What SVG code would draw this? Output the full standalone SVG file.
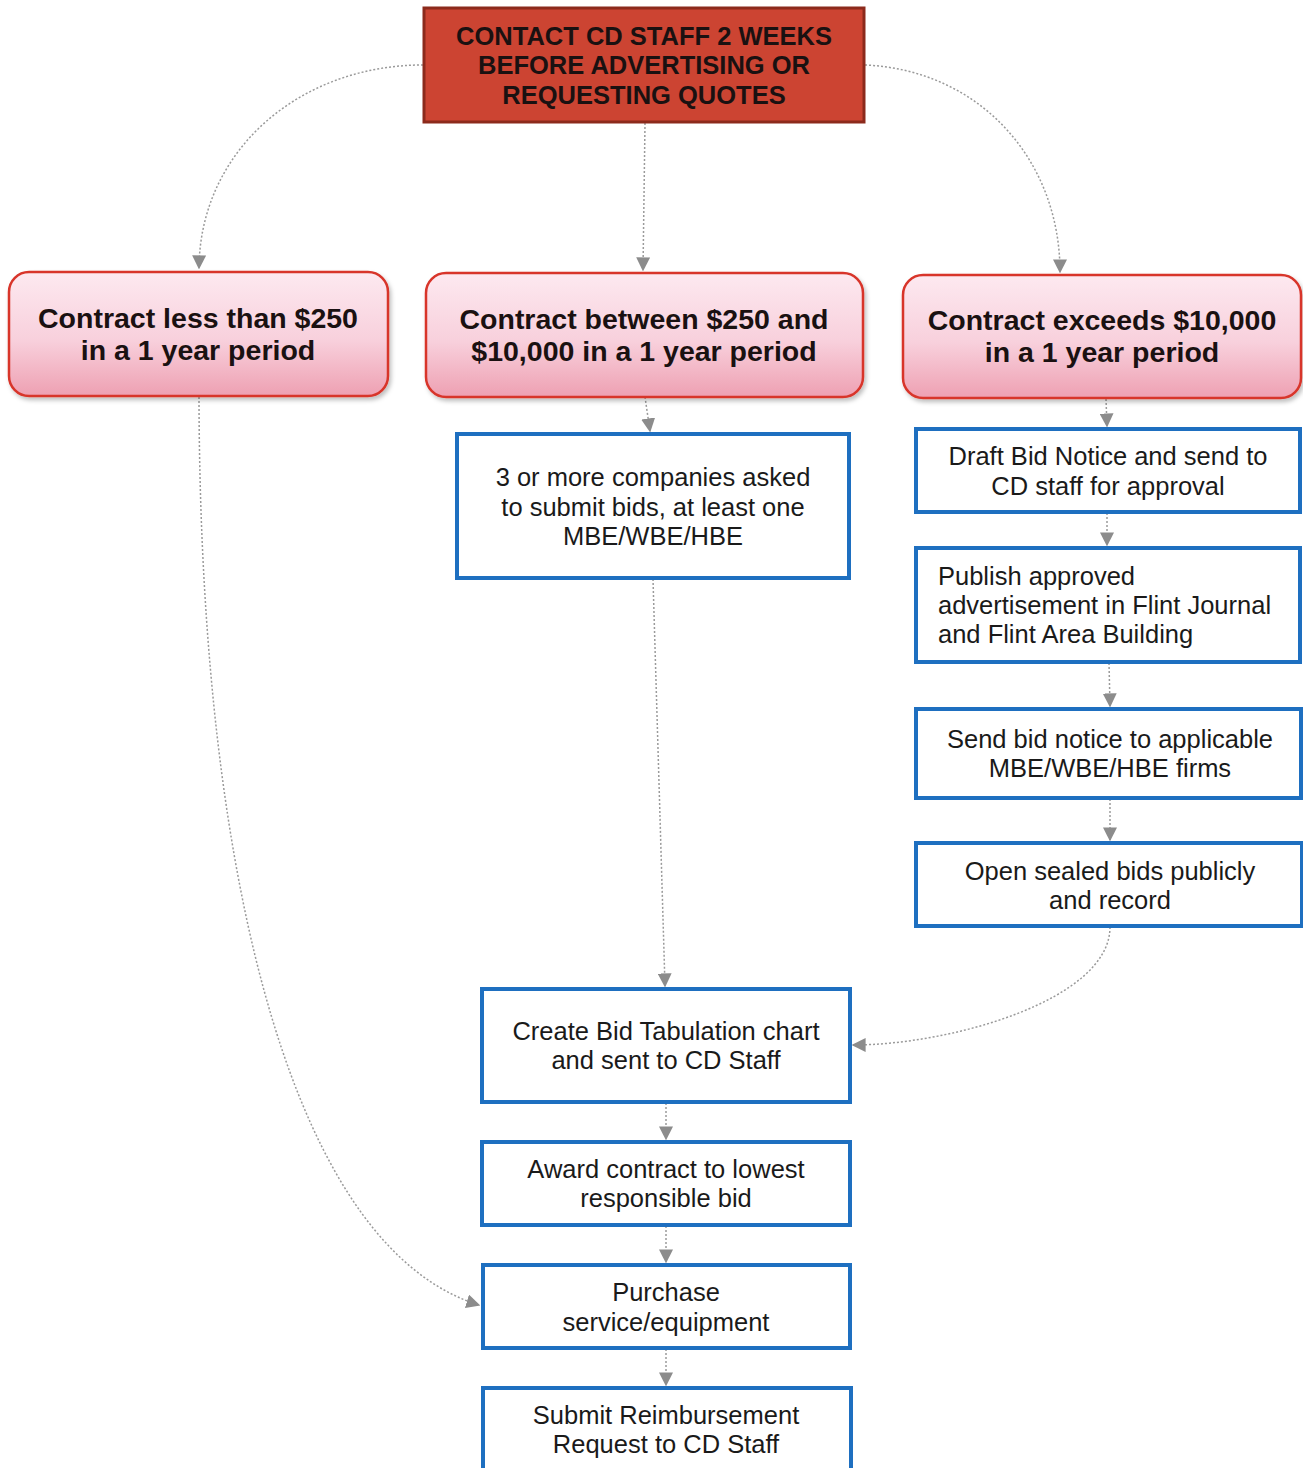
<svg xmlns="http://www.w3.org/2000/svg" width="1303" height="1468" viewBox="0 0 1303 1468">
<style>
.pink{stroke:#d8342a;stroke-width:2.5;fill:url(#pg)}
.blue{fill:#fff;stroke:#1e6fc0;stroke-width:4}
.t1{font-family:"Liberation Sans",Arial,sans-serif;font-weight:bold;font-size:25.5px;fill:#1a1111;text-anchor:middle}
.t2{font-family:"Liberation Sans",Arial,sans-serif;font-weight:bold;font-size:28.5px;fill:#1a1111;text-anchor:middle}
.t3{font-family:"Liberation Sans",Arial,sans-serif;font-size:25.5px;fill:#1a1a1a;text-anchor:middle}
.t3l{font-family:"Liberation Sans",Arial,sans-serif;font-size:25.5px;fill:#1a1a1a;text-anchor:start}
.c{fill:none;stroke:#9a9a9a;stroke-width:1.5;stroke-dasharray:2 2;marker-end:url(#ah)}
</style>
<defs>
<linearGradient id="pg" x1="0" y1="0" x2="0" y2="1">
<stop offset="0" stop-color="#fde9f0"/>
<stop offset="0.55" stop-color="#f8d0dc"/>
<stop offset="1" stop-color="#eea0b2"/>
</linearGradient>
<filter id="sh" x="-5%" y="-10%" width="110%" height="125%">
<feDropShadow dx="2" dy="3" stdDeviation="2" flood-color="#000" flood-opacity="0.25"/>
</filter>
<marker id="ah" viewBox="0 0 10 10" refX="9" refY="5" markerWidth="14" markerHeight="14" markerUnits="userSpaceOnUse" orient="auto">
<path d="M0,0 L10,5 L0,10 Z" fill="#8c8c8c"/>
</marker>
</defs>
<rect width="1303" height="1468" fill="#fff"/>
<g id="connectors">
<path class="c" d="M423,65 C300,65 200,150 199,268"/>
<path class="c" d="M645,123 L643,270"/>
<path class="c" d="M865,65 C980,70 1060,160 1060,272"/>
<path class="c" d="M199,397 C200,900 300,1250 479,1305"/>
<path class="c" d="M645,397 L650,431"/>
<path class="c" d="M653,579 L665,986"/>
<path class="c" d="M1106,399 L1107,426"/>
<path class="c" d="M1107,513 L1107,545"/>
<path class="c" d="M1109,663 L1110,706"/>
<path class="c" d="M1110,799 L1110,840"/>
<path class="c" d="M1110,927 C1110,1000 950,1045 853,1045"/>
<path class="c" d="M666,1103 L666,1139"/>
<path class="c" d="M666,1226 L666,1262"/>
<path class="c" d="M666,1349 L666,1385"/>
</g>
<g id="n-top">
<rect x="424" y="8" width="440" height="114" fill="#cc4432" stroke="#8c2a1c" stroke-width="3"/>
<text class="t1" x="644" y="45">CONTACT CD STAFF 2 WEEKS</text>
<text class="t1" x="644" y="74">BEFORE ADVERTISING OR</text>
<text class="t1" x="644" y="104">REQUESTING QUOTES</text>
</g>
<g id="n-less">
<rect class="pink" x="9" y="272" width="379" height="124" rx="20" filter="url(#sh)"/>
<text class="t2" x="198" y="328">Contract less than $250</text>
<text class="t2" x="198" y="360">in a 1 year period</text>
</g>
<g id="n-between">
<rect class="pink" x="426" y="273" width="437" height="124" rx="20" filter="url(#sh)"/>
<text class="t2" x="644" y="329">Contract between $250 and</text>
<text class="t2" x="644" y="361">$10,000 in a 1 year period</text>
</g>
<g id="n-exceeds">
<rect class="pink" x="903" y="275" width="398" height="123" rx="20" filter="url(#sh)"/>
<text class="t2" x="1102" y="330">Contract exceeds $10,000</text>
<text class="t2" x="1102" y="362">in a 1 year period</text>
</g>
<g id="n-three">
<rect class="blue" x="457" y="434" width="392" height="144"/>
<text class="t3" x="653" y="486">3 or more companies asked</text>
<text class="t3" x="653" y="516">to submit bids, at least one</text>
<text class="t3" x="653" y="545">MBE/WBE/HBE</text>
</g>
<g id="n-draft">
<rect class="blue" x="916" y="429" width="384" height="83"/>
<text class="t3" x="1108" y="465">Draft Bid Notice and send to</text>
<text class="t3" x="1108" y="495">CD staff for approval</text>
</g>
<g id="n-publish">
<rect class="blue" x="916" y="548" width="384" height="114"/>
<text class="t3l" x="938" y="585">Publish approved</text>
<text class="t3l" x="938" y="614">advertisement in Flint Journal</text>
<text class="t3l" x="938" y="643">and Flint Area Building</text>
</g>
<g id="n-send">
<rect class="blue" x="916" y="709" width="385" height="89"/>
<text class="t3" x="1110" y="748">Send bid notice to applicable</text>
<text class="t3" x="1110" y="777">MBE/WBE/HBE firms</text>
</g>
<g id="n-open">
<rect class="blue" x="916" y="843" width="386" height="83"/>
<text class="t3" x="1110" y="880">Open sealed bids publicly</text>
<text class="t3" x="1110" y="909">and record</text>
</g>
<g id="n-create">
<rect class="blue" x="482" y="989" width="368" height="113"/>
<text class="t3" x="666" y="1040">Create Bid Tabulation chart</text>
<text class="t3" x="666" y="1069">and sent to CD Staff</text>
</g>
<g id="n-award">
<rect class="blue" x="482" y="1142" width="368" height="83"/>
<text class="t3" x="666" y="1178">Award contract to lowest</text>
<text class="t3" x="666" y="1207">responsible bid</text>
</g>
<g id="n-purchase">
<rect class="blue" x="483" y="1265" width="367" height="83"/>
<text class="t3" x="666" y="1301">Purchase</text>
<text class="t3" x="666" y="1331">service/equipment</text>
</g>
<g id="n-submit">
<rect class="blue" x="483" y="1388" width="368" height="95"/>
<text class="t3" x="666" y="1424">Submit Reimbursement</text>
<text class="t3" x="666" y="1453">Request to CD Staff</text>
</g>
</svg>
